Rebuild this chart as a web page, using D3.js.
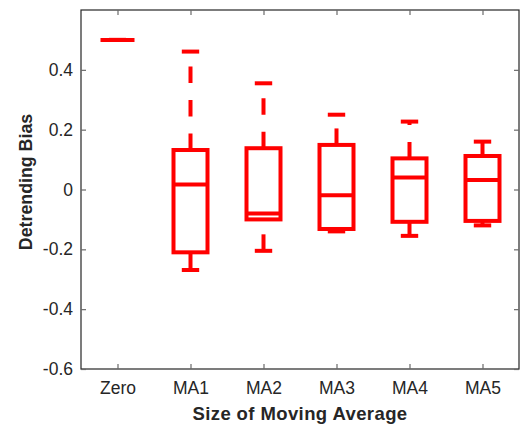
<!DOCTYPE html>
<html>
<head>
<meta charset="utf-8">
<script src="https://cdn.jsdelivr.net/npm/d3@7/dist/d3.min.js"></script>
<style>
  html, body { margin: 0; padding: 0; background: #fff; }
  svg { display: block; }
  text { font-family: "Liberation Sans", Arial, Helvetica, sans-serif; fill: #262626; }
</style>
</head>
<body>
<svg id="chart" width="526" height="425"></svg>
<script>
// Box-plot summary of detrending bias per moving-average size
const categories = ["Zero", "MA1", "MA2", "MA3", "MA4", "MA5"];
const lowerWhisker = [0.5, -0.269, -0.205, -0.140, -0.155, -0.120];
const q1           = [0.5, -0.210, -0.100, -0.132, -0.108, -0.105];
const medians      = [0.5,  0.017, -0.080, -0.019,  0.040,  0.032];
const q3           = [0.5,  0.132,  0.138,  0.149,  0.104,  0.112];
const upperWhisker = [0.5,  0.461,  0.355,  0.250,  0.227,  0.160];
const yTicks = [-0.6, -0.4, -0.2, 0, 0.2, 0.4];

const rows = categories.map((c, i) => ({
  cat: c, lo: lowerWhisker[i], q1: q1[i], med: medians[i], q3: q3[i], hi: upperWhisker[i]
}));

const svg = d3.select("#chart");
const plotLeft = 81, plotRight = 519, plotTop = 10, plotBottom = 369;
const red = "#ff0000";
const lw = 4;
const fontStack = "'Liberation Sans', Arial, sans-serif";

const x = d3.scalePoint().domain(categories).range([plotLeft, plotRight]).padding(0.5);
const y = d3.scaleLinear().domain([-0.6, 0.6]).range([plotBottom, plotTop]);
const boxHalf = 17;
const capHalf = 8.7;

// Axes frame
svg.append("rect")
  .attr("x", plotLeft).attr("y", plotTop)
  .attr("width", plotRight - plotLeft).attr("height", plotBottom - plotTop)
  .attr("fill", "none").attr("stroke", "#262626").attr("stroke-width", 1.2);

const tickLen = 5;
const tickColor = "#6a6a6a";
// tick labels use a plain hyphen for negatives
const fmtY = d => d === 0 ? "0" : d3.format(".1f")(d).replace("\u2212", "-");

// Left axis with inward ticks
const yAxis = svg.append("g").attr("transform", `translate(${plotLeft},0)`)
  .call(d3.axisLeft(y).tickValues(yTicks).tickSize(-tickLen).tickPadding(8).tickFormat(fmtY));
yAxis.select(".domain").remove();
yAxis.selectAll(".tick line").attr("stroke", tickColor).attr("stroke-width", 1.2);
yAxis.selectAll(".tick text")
  .attr("font-size", 17.5).attr("fill", "#262626")
  .style("font-family", fontStack);

// Right axis: ticks only
const yAxisR = svg.append("g").attr("transform", `translate(${plotRight},0)`)
  .call(d3.axisRight(y).tickValues(yTicks).tickSize(-tickLen).tickFormat(""));
yAxisR.select(".domain").remove();
yAxisR.selectAll(".tick line").attr("stroke", tickColor).attr("stroke-width", 1.2);

// Bottom axis with inward ticks
const xAxis = svg.append("g").attr("transform", `translate(0,${plotBottom})`)
  .call(d3.axisBottom(x).tickSize(-tickLen).tickPadding(13));
xAxis.select(".domain").remove();
xAxis.selectAll(".tick line").attr("stroke", tickColor).attr("stroke-width", 1.2);
xAxis.selectAll(".tick text")
  .attr("font-size", 17.5).attr("fill", "#262626")
  .style("font-family", fontStack);

// Top axis: ticks only
const xAxisT = svg.append("g").attr("transform", `translate(0,${plotTop})`)
  .call(d3.axisTop(x).tickSize(-tickLen).tickFormat(""));
xAxisT.select(".domain").remove();
xAxisT.selectAll(".tick line").attr("stroke", tickColor).attr("stroke-width", 1.2);

// Axis titles
svg.append("text")
  .attr("x", (plotLeft + plotRight) / 2).attr("y", 419.5)
  .attr("text-anchor", "middle")
  .attr("font-size", 18.5).attr("font-weight", "bold")
  .attr("letter-spacing", 0.4)
  .text("Size of Moving Average");

svg.append("text")
  .attr("transform", "translate(32,182) rotate(-90)")
  .attr("text-anchor", "middle")
  .attr("font-size", 17.8).attr("font-weight", "bold")
  .text("Detrending Bias");

// Boxes
const g = svg.append("g").attr("stroke", red).attr("fill", "none").attr("stroke-width", lw);
const box = g.selectAll("g.box").data(rows).join("g").attr("class", "box");

// whiskers drawn from the lower value up to the higher value (dashed)
box.append("line")
  .attr("x1", d => x(d.cat)).attr("x2", d => x(d.cat))
  .attr("y1", d => y(d.q3)).attr("y2", d => y(d.hi))
  .attr("stroke-dasharray", "16.5,17");
box.append("line")
  .attr("x1", d => x(d.cat)).attr("x2", d => x(d.cat))
  .attr("y1", d => y(d.lo)).attr("y2", d => y(d.q1))
  .attr("stroke-dasharray", "16.5,17");

// whisker caps
box.append("line")
  .attr("x1", d => x(d.cat) - capHalf).attr("x2", d => x(d.cat) + capHalf)
  .attr("y1", d => y(d.hi)).attr("y2", d => y(d.hi));
box.append("line")
  .attr("x1", d => x(d.cat) - capHalf).attr("x2", d => x(d.cat) + capHalf)
  .attr("y1", d => y(d.lo)).attr("y2", d => y(d.lo));

// interquartile box
box.append("rect")
  .attr("x", d => x(d.cat) - boxHalf)
  .attr("y", d => y(d.q3))
  .attr("width", boxHalf * 2)
  .attr("height", d => y(d.q1) - y(d.q3))
  .attr("stroke-linejoin", "miter");

// median
box.append("line")
  .attr("x1", d => x(d.cat) - boxHalf).attr("x2", d => x(d.cat) + boxHalf)
  .attr("y1", d => y(d.med)).attr("y2", d => y(d.med));
</script>
</body>
</html>
